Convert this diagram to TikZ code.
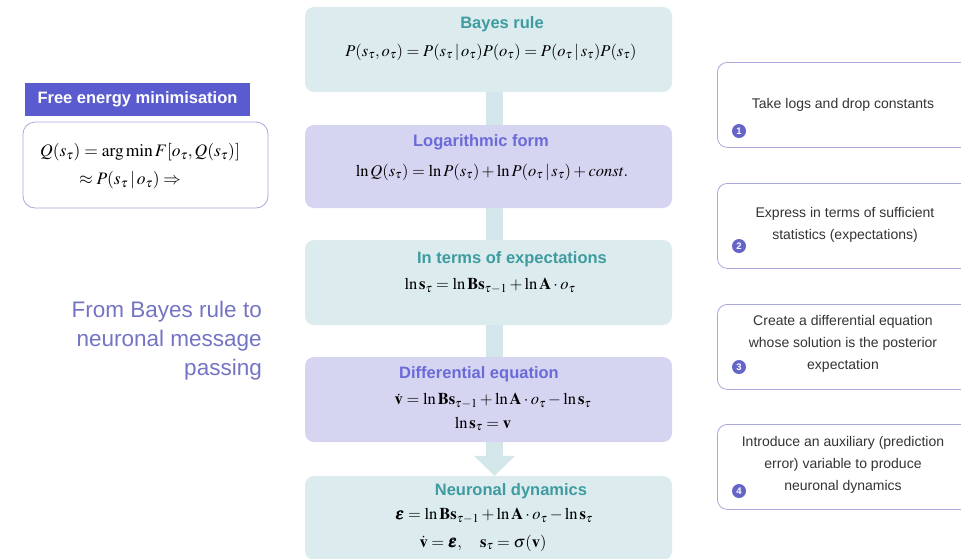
\documentclass[tikz,border=0pt]{standalone}
\usepackage{mathptmx}
\usepackage[no-math]{fontspec}
\setmainfont{Liberation Sans}
\usepackage{bm}
\usetikzlibrary{arrows.meta}

\definecolor{tealbox}{HTML}{DCECEE}
\definecolor{barcol}{HTML}{D3E7EA}
\definecolor{lavbox}{HTML}{D5D5F2}
\definecolor{tealtxt}{HTML}{3E9BA0}
\definecolor{lavtxt}{HTML}{6A6AD8}
\definecolor{headfill}{HTML}{5B5BD0}
\definecolor{notedge}{HTML}{A8A8DA}
\definecolor{numfill}{HTML}{6565C8}
\definecolor{sidetxt}{HTML}{7474C4}
\definecolor{darktxt}{HTML}{333333}

\begin{document}
\begin{tikzpicture}[x=1pt, y=-1pt,
    stepbox/.style={rounded corners=9pt, minimum width=367pt, inner sep=0pt},
    title/.style={font=\fontsize{16.5}{18}\selectfont\bfseries, inner sep=0pt},
    eqn/.style={font=\fontsize{16.5}{18}\selectfont, inner sep=0pt},
    note/.style={draw=notedge, line width=0.8pt, rounded corners=10pt, minimum width=280pt, minimum height=85pt, anchor=north west},
    notetext/.style={font=\fontsize{14}{22}\selectfont, align=center, text=darktxt, inner sep=0pt},
    num/.style={circle, fill=numfill, text=white, inner sep=0pt, minimum size=14pt, font=\fontsize{9.5}{9.5}\selectfont\bfseries},
    bar/.style={line width=17pt, draw=barcol}]
                    \useasboundingbox (0,0) rectangle (961,558);

                    % central column
                    \node[stepbox, fill=tealbox, minimum height=85pt] (bayes) at (488.5,49.5) {};
                    \node[stepbox, fill=lavbox, minimum height=83pt] (logf) at (488.5,166.5) {};
                    \node[stepbox, fill=tealbox, minimum height=85pt] (expec) at (488.5,282.5) {};
                    \node[stepbox, fill=lavbox, minimum height=85pt] (diff) at (488.5,399.5) {};
                    \node[stepbox, fill=tealbox, minimum height=84pt] (neuro) at (488.5,518) {};

                    \foreach \a/\b in {bayes/logf, logf/expec, expec/diff}
                        \draw[bar] ([xshift=6pt]\a.south) -- ([xshift=6pt]\b.north);
                    \draw[bar, -{Triangle[width=40pt, length=20pt]}, barcol]
                        ([xshift=6pt]diff.south) -- ([xshift=6pt]neuro.north);

                    \node[title, text=tealtxt] (bayesT) at (502,24) {Bayes rule};
                    \node[eqn] (bayesE) at (491,52) {$P(s_\tau,o_\tau)=P(s_\tau\,|\,o_\tau)P(o_\tau)=P(o_\tau\,|\,s_\tau)P(s_\tau)$};

                    \node[title, text=lavtxt] (logfT) at (481,142) {Logarithmic form};
                    \node[eqn] (logfE) at (492,172) {$\ln Q(s_\tau)=\ln P(s_\tau)+\ln P(o_\tau\,|\,s_\tau)+\mathit{const}.$};

                    \node[title, text=tealtxt] (expecT) at (512,259) {In terms of expectations};
                    \node[eqn] (expecE) at (490,286) {$\ln\mathbf{s}_\tau=\ln\mathbf{B}\mathbf{s}_{\tau-1}+\ln\mathbf{A}\cdot o_\tau$};

                    \node[title, text=lavtxt] (diffT) at (479,374) {Differential equation};
                    \node[eqn] (diffE1) at (493,401) {$\dot{\mathbf{v}}=\ln\mathbf{B}\mathbf{s}_{\tau-1}+\ln\mathbf{A}\cdot o_\tau-\ln\mathbf{s}_\tau$};
                    \node[eqn] (diffE2) at (483,424) {$\ln\mathbf{s}_\tau=\mathbf{v}$};

                    \node[title, text=tealtxt] (neuroT) at (511,491) {Neuronal dynamics};
                    \node[eqn] (neuroE1) at (494,516) {$\bm{\varepsilon}=\ln\mathbf{B}\mathbf{s}_{\tau-1}+\ln\mathbf{A}\cdot o_\tau-\ln\mathbf{s}_\tau$};
                    \node[eqn] (neuroE2) at (483,543) {$\dot{\mathbf{v}}=\bm{\varepsilon},\quad\mathbf{s}_\tau=\sigma(\mathbf{v})$};

                    % left side
                    \node[fill=headfill, text=white, minimum width=225pt, minimum height=33pt, inner sep=0pt,
                        font=\fontsize{16.5}{18}\selectfont\bfseries] (fehead) at (137.5,99.5) {Free energy minimisation};
                    \node[draw=notedge, line width=0.8pt, rounded corners=12pt, minimum width=245pt,
                        minimum height=86pt, inner sep=0pt] (febox) at (145.5,165) {};
                    \node[eqn, font=\fontsize{17.5}{19}\selectfont] (feE1) at (140,152) {$Q(s_\tau)=\arg\min F[o_\tau,Q(s_\tau)]$};
                    \node[eqn, font=\fontsize{17.5}{19}\selectfont] (feE2) at (130,180) {$\approx P(s_\tau\,|\,o_\tau)\Rightarrow$};

                    \node[font=\fontsize{22.5}{29}\selectfont, text=sidetxt, align=right, anchor=east,
                        inner sep=0pt] (side) at (262,341) {From Bayes rule to\\neuronal message\\passing};

                    % right side
                    \node[note] (note1) at (717,62) {};
                    \node[note] (note2) at (717,183) {};
                    \node[note] (note3) at (717,304) {};
                    \node[note] (note4) at (717,424) {};

                    \node[notetext] (note1T) at (843,105) {Take logs and drop constants};
                    \node[notetext] (note2T) at (845,225) {Express in terms of sufficient\\statistics (expectations)};
                    \node[notetext] (note3T) at (843,344) {Create a differential equation\\whose solution is the posterior\\expectation};
                    \node[notetext] (note4T) at (843,465) {Introduce an auxiliary (prediction\\error) variable to produce\\neuronal dynamics};

                    \node[num] (num1) at (739,131) {1};
                    \node[num] (num2) at (739,246) {2};
                    \node[num] (num3) at (739,367) {3};
                    \node[num] (num4) at (739,491) {4};
                \end{tikzpicture}
\end{document}
